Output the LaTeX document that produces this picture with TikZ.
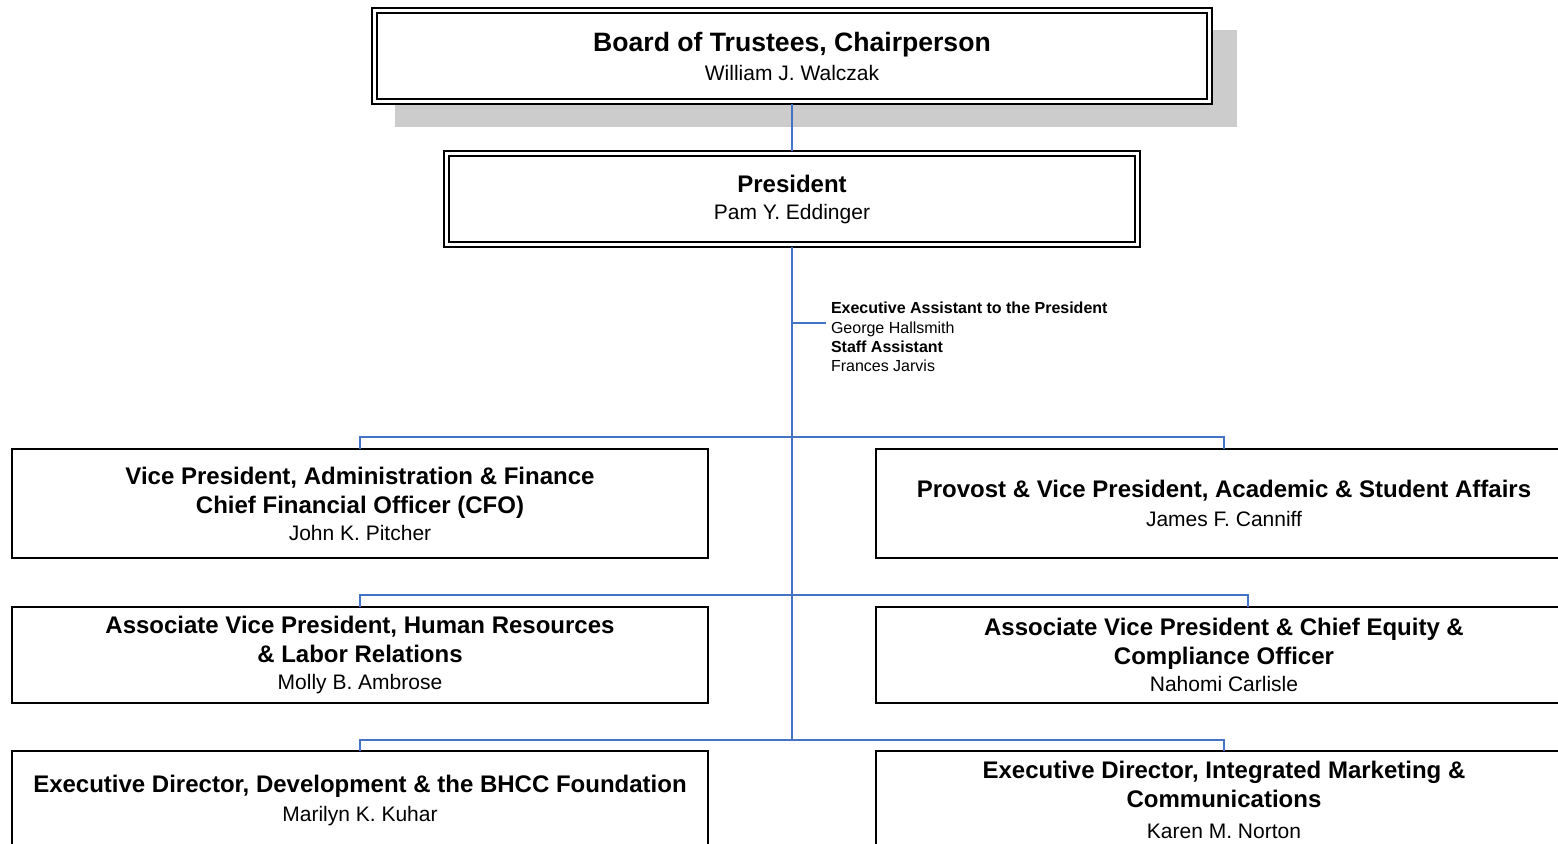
\documentclass[tikz,border=0pt]{standalone}
\usepackage{fontspec}
\setmainfont{Liberation Sans}
\usetikzlibrary{positioning}
\definecolor{linkblue}{RGB}{68,114,196}
\definecolor{shadowgray}{RGB}{204,204,204}
\newcommand{\orgtitle}[1]{{\fontsize{12}{14.5}\selectfont\bfseries #1}}
\begin{document}
\begin{tikzpicture}[x=0.5pt,y=-0.5pt,
	every node/.style={align=center,outer sep=0,inner sep=0,font=\fontsize{10.5}{13.5}\selectfont},
	topbox/.style={draw,line width=1.4pt,minimum height=48pt},
	unitbox/.style={draw,line width=1pt,minimum width=348pt,minimum height=54.5pt},
	asst/.style={align=left,font=\fontsize{8}{9.7}\selectfont},
	link/.style={draw=linkblue,line width=1pt}]
	\useasboundingbox (0,0) rectangle (1558,843);
	\clip (0,0) rectangle (1558,843);
	\fill[shadowgray] (395,30) rectangle (1237,127);
	\node[topbox,fill=white,minimum width=420pt] (brd) at (792,56) {{\fontsize{13.3}{15}\selectfont\bfseries Board of Trustees, Chairperson}\\[1pt] William J. Walczak};
	\node[topbox,minimum width=348pt] (pres) at (792,199) {\orgtitle{President}\\ Pam Y. Eddinger};
	\foreach \n in {brd,pres}
		\draw[line width=0.6pt] ([shift={(5,5)}]\n.north west) rectangle ([shift={(-5,-5)}]\n.south east);
	% staff
	\node[asst,anchor=north west] (asst) at (831,302) {\textbf{Executive Assistant to the President}\\George Hallsmith\\\textbf{Staff Assistant}\\Frances Jarvis};
	% units
	\node[unitbox] (vpaf) at (360,503.5) {\orgtitle{Vice President, Administration \& Finance}\\[1pt]\orgtitle{Chief Financial Officer (CFO)}\\ John K. Pitcher};
	\node[unitbox,right=84pt of vpaf] (prov) {\orgtitle{Provost \& Vice President, Academic \& Student Affairs}\\[1pt] James F. Canniff};
	\node[unitbox,minimum height=48pt,below=24.5pt of vpaf] (avphr) {\orgtitle{Associate Vice President, Human Resources}\\[1pt]\orgtitle{\& Labor Relations}\\ Molly B. Ambrose};
	\node[unitbox,minimum height=48pt,right=84pt of avphr] (avpce) {\orgtitle{Associate Vice President \& Chief Equity \&}\\[1pt]\orgtitle{Compliance Officer}\\ Nahomi Carlisle};
	\node[unitbox,minimum height=49pt,below=24pt of avphr] (edfnd) {\orgtitle{Executive Director, Development \& the BHCC Foundation}\\[1pt] Marilyn K. Kuhar};
	\node[unitbox,minimum height=49pt,right=84pt of edfnd] (edmkt) {\orgtitle{Executive Director, Integrated Marketing \&}\\[1pt]\orgtitle{Communications}\\[2pt] Karen M. Norton};
	% lines
	\coordinate (ja) at (792,323);
	\coordinate (j1) at (792,437);
	\coordinate (j2) at (792,595);
	\coordinate (j3) at (792,740);
	\draw[link] (brd) -- (pres);
	\draw[link] (pres.south) -- (j3);
	\draw[link] (ja) -- ([xshift=-2.5pt]ja -| asst.west);
	\draw[link] (j1) -| (vpaf.north);
	\draw[link] (j1) -| (prov.north);
	\draw[link] (j2) -| (avphr.north);
	\draw[link] (j2) -| ([xshift=12pt]avpce.north);
	\draw[link] (j3) -| (edfnd.north);
	\draw[link] (j3) -| (edmkt.north);
\end{tikzpicture}
\end{document}
